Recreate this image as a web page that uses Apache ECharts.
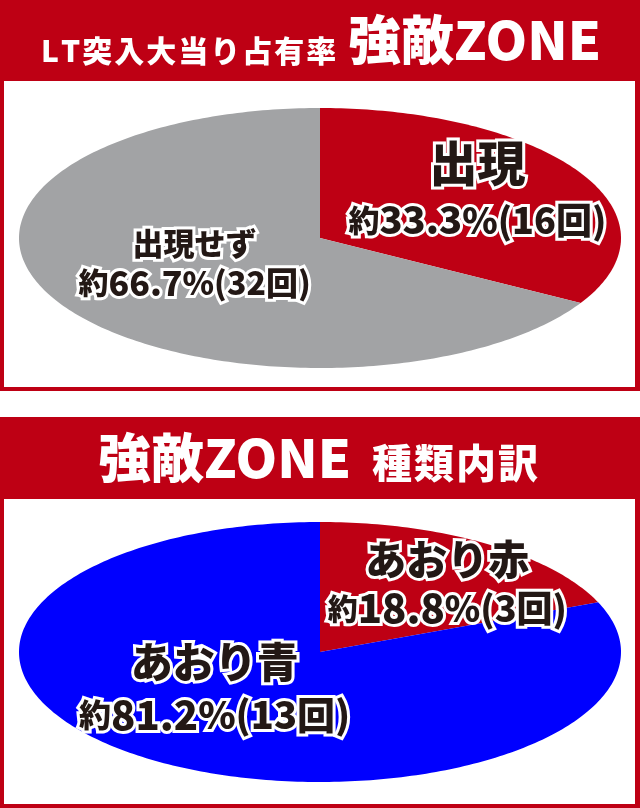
<!DOCTYPE html>
<html>
<head>
<meta charset="utf-8">
<script src="https://cdn.jsdelivr.net/npm/echarts@6/dist/echarts.min.js"></script>
<style>
  html, body { margin: 0; padding: 0; background: #fff; }
  #chart { width: 640px; height: 808px; }
</style>
</head>
<body>
<div id="chart"></div>
<script>
// data
const topTitle = ['LT突入大当り占有率', '強敵ZONE'];
const topCategories = ['出現', '出現せず'];
const topCounts = [16, 32];
const topPercents = ['33.3', '66.7'];

const bottomTitle = ['強敵ZONE', '種類内訳'];
const bottomCategories = ['あおり赤', 'あおり青'];
const bottomCounts = [3, 13];
const bottomPercents = ['18.8', '81.2'];

const RED = '#BE0014';
const FONT = "'Noto Sans CJK JP', 'Noto Sans', sans-serif";
const INK = '#231815';

const topColors = [RED, '#A2A3A5'];
const bottomColors = [RED, '#0000FF'];

// label look per slice: offset from mid-angle anchor, font sizes, line heights
const topLabelStyle = [
  { dx: 1, dy: -8, t: 48, y: 31, n: 38, p: 36, k: 36, l1: 58, l2: 56 },
  { dx: 31, dy: -14, t: 31, y: 30, n: 34, p: 32, k: 32, l1: 40, l2: 40 }
];
const bottomLabelStyle = [
  { dx: 27, dy: -4, t: 41, y: 30, n: 40, p: 36, k: 36, l1: 50, l2: 48 },
  { dx: -5, dy: -29, t: 42, y: 32, n: 40, p: 38, k: 38, l1: 54, l2: 52 }
];

function spaced(text, key) {
  return text.split('').map(function (ch) { return '{' + key + '|' + ch + '}'; }).join('');
}

function pieSeries(cats, counts, pcts, colors, geo, labelStyle) {
  const total = counts.reduce(function (a, b) { return a + b; }, 0);
  return {
    type: 'custom',
    coordinateSystem: 'none',
    silent: true,
    data: cats.map(function (c, i) { return { name: c, value: counts[i] }; }),
    renderItem: function (params, api) {
      const i = params.dataIndex;
      let before = 0;
      for (let k = 0; k < i; k++) before += counts[k];
      const t0 = before / total * Math.PI * 2;
      const t1 = (before + api.value(0)) / total * Math.PI * 2;
      const pts = [[geo.cx, geo.cy]];
      const steps = Math.max(8, Math.ceil((t1 - t0) / (Math.PI / 180)));
      for (let s = 0; s <= steps; s++) {
        const t = t0 + (t1 - t0) * s / steps;
        pts.push([geo.cx + geo.rx * Math.sin(t), geo.cy - geo.ry * Math.cos(t)]);
      }
      const tm = (t0 + t1) / 2;
      const ls = labelStyle[i];
      const common = { fill: INK, stroke: '#fff', lineWidth: 6, fontFamily: FONT, fontWeight: 900 };
      const rich = {
        t: Object.assign({ fontSize: ls.t, lineHeight: ls.l1 }, common),
        y: Object.assign({ fontSize: ls.y, lineHeight: ls.l2 }, common),
        n: Object.assign({ fontSize: ls.n, lineHeight: ls.l2 }, common),
        p: Object.assign({ fontSize: ls.p, lineHeight: ls.l2 }, common),
        k: Object.assign({ fontSize: ls.k, lineHeight: ls.l2 }, common)
      };
      return {
        type: 'group',
        children: [
          { type: 'polygon', shape: { points: pts }, style: { fill: colors[i] } },
          {
            type: 'text',
            x: geo.cx + geo.rx * 0.6 * Math.sin(tm) + ls.dx,
            y: geo.cy - geo.ry * 0.6 * Math.cos(tm) + ls.dy,
            z2: 10,
            style: {
              text: '{t|' + cats[i] + '}\n{y|約}{n|' + pcts[i] + '}{p|%}{k|(' + counts[i] + '回)}',
              rich: rich,
              align: 'center',
              verticalAlign: 'middle'
            }
          }
        ]
      };
    }
  };
}

const headText = { fill: '#fff', fontFamily: FONT, fontWeight: 900 };

const chart = echarts.init(document.getElementById('chart'));
chart.setOption({
  animation: false,
  graphic: [
    // top panel
    { type: 'rect', shape: { x: 0, y: 0, width: 640, height: 391 }, style: { fill: RED } },
    { type: 'rect', shape: { x: 4, y: 81, width: 631, height: 306 }, style: { fill: '#fff' } },
    {
      type: 'text', x: 40, y: 51,
      style: {
        text: spaced(topTitle[0], 'c'),
        rich: { c: Object.assign({ fontSize: 30, padding: [0, 1] }, headText) },
        align: 'left', verticalAlign: 'middle'
      }
    },
    {
      type: 'text', x: 348, y: 40,
      style: Object.assign({ text: topTitle[1], fontSize: 53, align: 'left', verticalAlign: 'middle' }, headText)
    },
    // bottom panel
    { type: 'rect', shape: { x: 0, y: 417, width: 640, height: 391 }, style: { fill: RED } },
    { type: 'rect', shape: { x: 4, y: 499, width: 631, height: 305 }, style: { fill: '#fff' } },
    {
      type: 'text', x: 98, y: 458,
      style: Object.assign({ text: bottomTitle[0], fontSize: 53, align: 'left', verticalAlign: 'middle' }, headText)
    },
    {
      type: 'text', x: 371, y: 463,
      style: {
        text: spaced(bottomTitle[1], 'c'),
        rich: { c: Object.assign({ fontSize: 40, padding: [0, 1] }, headText) },
        align: 'left', verticalAlign: 'middle'
      }
    }
  ],
  series: [
    pieSeries(topCategories, topCounts, topPercents, topColors,
      { cx: 320, cy: 238, rx: 301, ry: 130 }, topLabelStyle),
    pieSeries(bottomCategories, bottomCounts, bottomPercents, bottomColors,
      { cx: 320, cy: 652, rx: 301, ry: 130 }, bottomLabelStyle)
  ]
});
</script>
</body>
</html>
